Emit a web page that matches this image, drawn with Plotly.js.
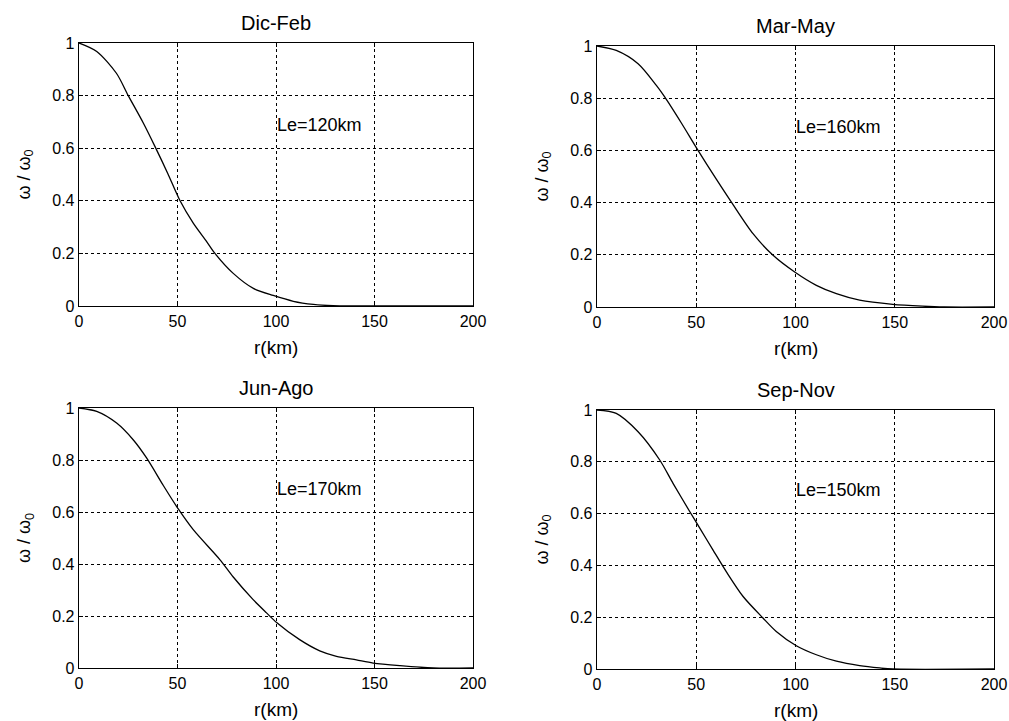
<!DOCTYPE html>
<html>
<head>
<meta charset="utf-8">
<script src="https://cdn.plot.ly/plotly-3.0.1.min.js"></script>
<style>html,body{margin:0;padding:0;background:#fff;}#plot{width:1009px;height:721px;}</style>
</head>
<body>
<div id="plot"></div>
<script>
// Panel titles and annotations
const panelTitles = ["Dic-Feb", "Mar-May", "Jun-Ago", "Sep-Nov"];
const panelLabels = ["Le=120km", "Le=160km", "Le=170km", "Le=150km"];
const xTitle = "r(km)";
const yTitle = "ω / ω<sub>0</sub>";

// Dic-Feb
const rDicFeb = [0, 9, 19, 25, 32.7, 38.6, 45, 51.3, 58, 64.8, 69, 78.3, 88.5, 98.6, 108.8, 119, 129, 140, 200];
const wDicFeb = [1, 0.968, 0.885, 0.80, 0.695, 0.606, 0.505, 0.40, 0.315, 0.245, 0.20, 0.124, 0.067, 0.040, 0.018, 0.006, 0.001, 0, 0];
// Mar-May
const rMarMay = [0, 9.7, 20.7, 29.9, 34.1, 42.5, 50.9, 60.1, 67.7, 78.6, 88.7, 99.6, 110.5, 120.6, 132.3, 149, 164, 175, 200];
const wMarMay = [1, 0.983, 0.932, 0.849, 0.805, 0.705, 0.600, 0.49, 0.402, 0.281, 0.198, 0.134, 0.083, 0.051, 0.026, 0.010, 0.003, 0, 0];
// Jun-Ago
const rJunAgo = [0, 9, 19.1, 27.6, 34.3, 42.8, 49.5, 58, 71.5, 78.3, 88.4, 95.2, 100.3, 112, 122.2, 130.7, 140.8, 149.3, 162.8, 179.7, 200];
const wJunAgo = [1, 0.987, 0.942, 0.877, 0.808, 0.702, 0.622, 0.532, 0.417, 0.350, 0.263, 0.212, 0.175, 0.109, 0.066, 0.045, 0.031, 0.019, 0.009, 0, 0];
// Sep-Nov
const rSepNov = [0, 9.7, 20.7, 31.6, 38.3, 46.7, 51.7, 58.4, 65.2, 73.6, 83.6, 90.3, 100.4, 110.5, 120.6, 132.3, 142.4, 149, 200];
const wSepNov = [1, 0.987, 0.916, 0.807, 0.717, 0.608, 0.545, 0.46, 0.375, 0.280, 0.197, 0.145, 0.090, 0.055, 0.030, 0.013, 0.004, 0, 0];

const xTicks = [0, 50, 100, 150, 200];
const yTicks = [0, 0.2, 0.4, 0.6, 0.8, 1];
const yTickText = ["0", "0.2", "0.4", "0.6", "0.8", "1"];

const W = 1009, H = 721;
// pixel boxes [x0, x1, yTop, yBottom]
const boxes = [[79, 473, 43, 306], [597, 994, 46, 307], [79, 473, 408, 668], [597, 994, 410, 669]];
const series = [[rDicFeb, wDicFeb], [rMarMay, wMarMay], [rJunAgo, wJunAgo], [rSepNov, wSepNov]];

const FONT = "Liberation Sans, Arial, sans-serif";
const data = [];
const layout = {
  width: W, height: H,
  margin: {l: 0, r: 0, t: 0, b: 0},
  paper_bgcolor: "#fff", plot_bgcolor: "#fff",
  showlegend: false,
  font: {family: FONT, color: "#000", size: 16},
  annotations: []
};

series.forEach((s, i) => {
  const n = i + 1;
  const xa = n === 1 ? "x" : "x" + n;
  const ya = n === 1 ? "y" : "y" + n;
  data.push({x: s[0], y: s[1], xaxis: xa, yaxis: ya, type: "scatter", mode: "lines",
    line: {color: "#000", width: 1.3, shape: "spline", smoothing: 0.8}, hoverinfo: "skip"});
  const b = boxes[i];
  const axCommon = {
    showline: true, mirror: "ticks", linecolor: "#000", linewidth: 1.3,
    showgrid: true, gridcolor: "#000", griddash: "dot", gridwidth: 1,
    zeroline: false, ticks: "inside", ticklen: 4, tickcolor: "#000",
    tickfont: {family: FONT, size: 16, color: "#000"}
  };
  layout["xaxis" + (n === 1 ? "" : n)] = Object.assign({}, axCommon, {
    domain: [b[0] / W, b[1] / W], anchor: ya, range: [0, 200], tickvals: xTicks,
    ticktext: xTicks.map(String)
  });
  layout["yaxis" + (n === 1 ? "" : n)] = Object.assign({}, axCommon, {
    domain: [(H - b[3]) / H, (H - b[2]) / H], anchor: xa, range: [0, 1], tickvals: yTicks,
    ticktext: yTickText
  });
  // panel title
  layout.annotations.push({
    text: panelTitles[i], xref: "paper", yref: "paper",
    x: ((b[0] + b[1]) / 2) / W, y: (H - (b[2] - 20)) / H, xanchor: "center", yanchor: "middle",
    showarrow: false, font: {family: FONT, size: 20, color: "#000"}
  });
  // x axis title
  layout.annotations.push({
    text: xTitle, xref: "paper", yref: "paper",
    x: ((b[0] + b[1]) / 2) / W, y: (H - (b[3] + 41)) / H, xanchor: "center", yanchor: "middle",
    showarrow: false, font: {family: FONT, size: 19, color: "#000"}
  });
  // y axis title
  layout.annotations.push({
    text: yTitle, xref: "paper", yref: "paper", textangle: -90,
    x: (b[0] - 54) / W, y: (H - (b[2] + b[3]) / 2) / H, xanchor: "center", yanchor: "middle",
    showarrow: false, font: {family: FONT, size: 18, color: "#000"}
  });
  // Le label
  layout.annotations.push({
    text: panelLabels[i], xref: xa, yref: ya, x: 99.3, y: 0.69,
    xanchor: "left", yanchor: "middle", showarrow: false,
    font: {family: FONT, size: 18, color: "#000"}
  });
});

Plotly.newPlot("plot", data, layout, {displayModeBar: false, staticPlot: true});
</script>
</body>
</html>
